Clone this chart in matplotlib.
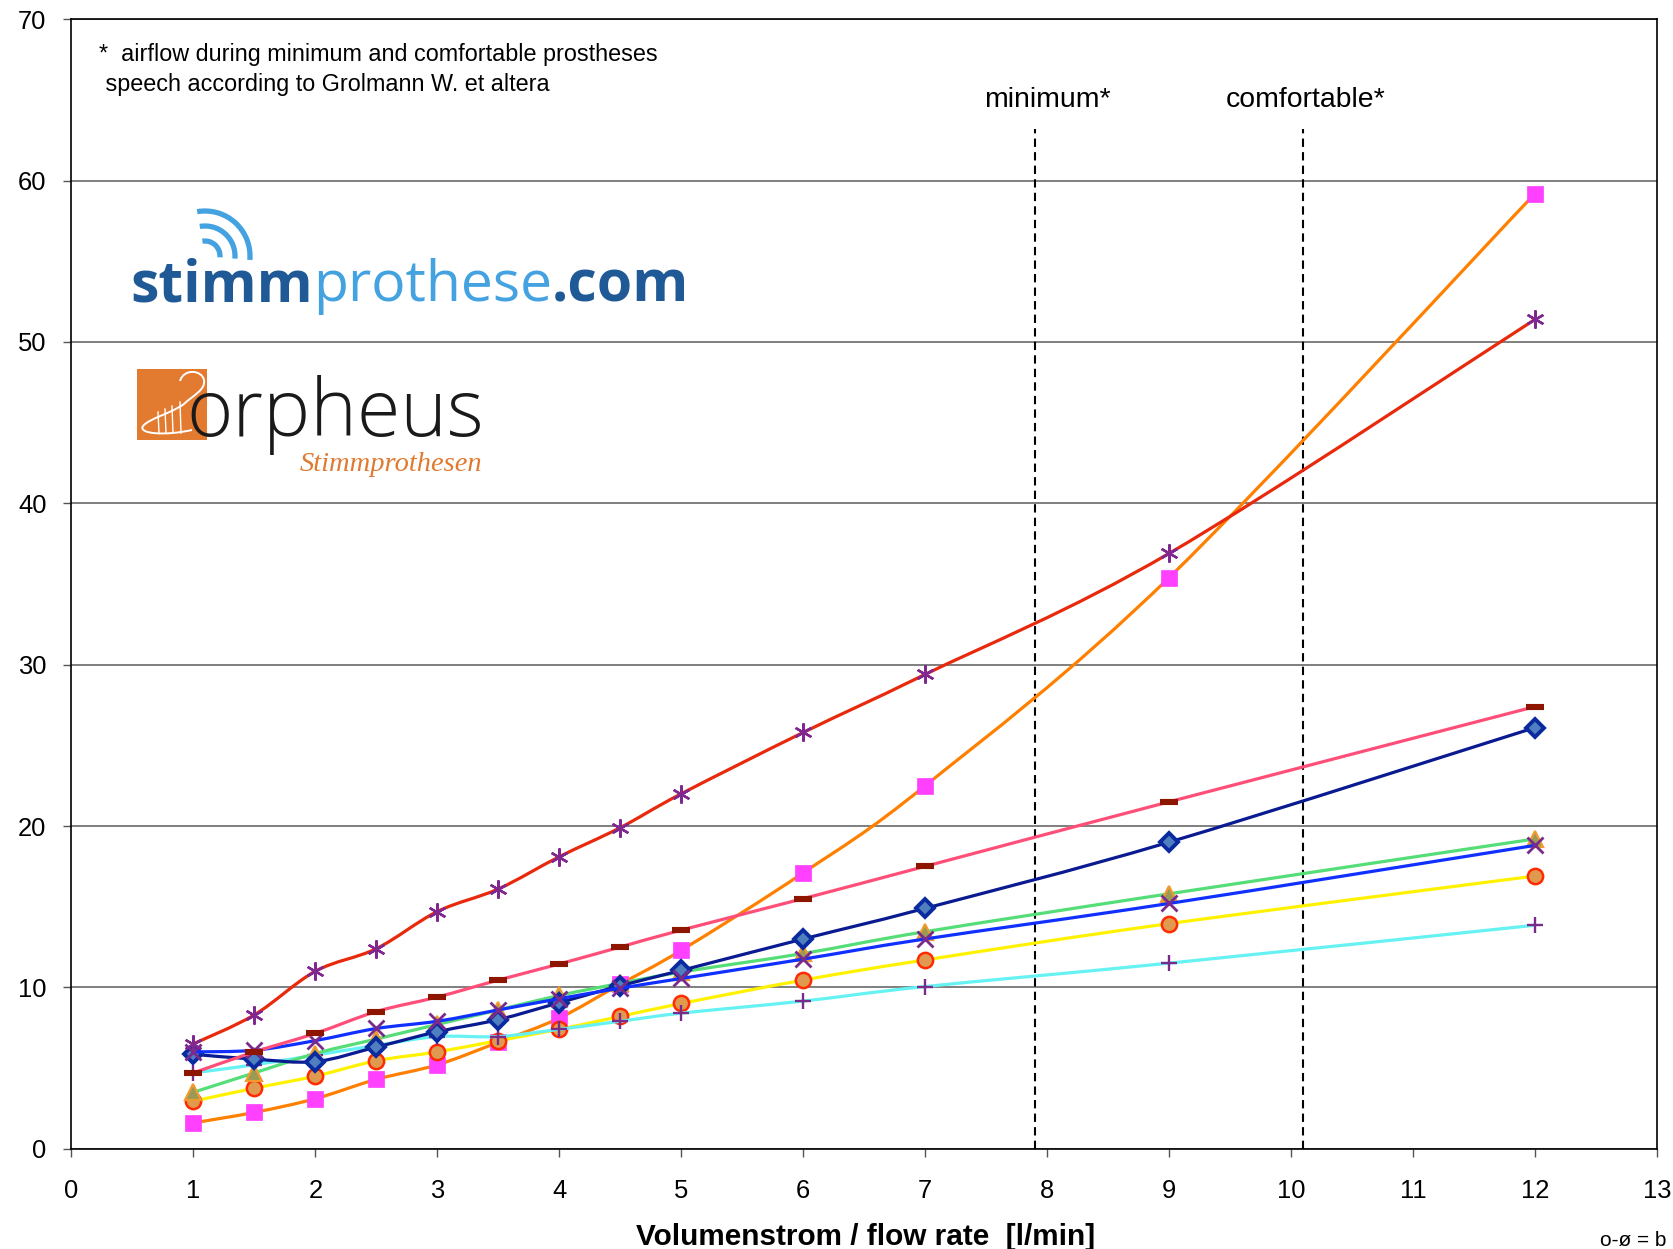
import numpy as np
import matplotlib
matplotlib.use("Agg")
import matplotlib.pyplot as plt
from matplotlib.path import Path
from matplotlib.patches import PathPatch, Arc, Rectangle

plt.rcParams['font.family'] = ['Liberation Sans', 'DejaVu Sans']

# flow rate [l/min]
flow = [1, 1.5, 2, 2.5, 3, 3.5, 4, 4.5, 5, 6, 7, 9, 12]

# pressure values per prosthesis
red_star = [6.5, 8.3, 11.0, 12.4, 14.7, 16.1, 18.1, 19.9, 22.0, 25.8, 29.4, 36.9, 51.4]
orange_square = [1.6, 2.25, 3.1, 4.3, 5.2, 6.6, 8.1, 10.2, 12.3, 17.1, 22.5, 35.4, 59.2]
pink_dash = [4.7, 6.0, 7.15, 8.5, 9.4, 10.45, 11.45, 12.5, 13.55, 15.5, 17.5, 21.5, 27.4]
navy_diamond = [5.85, 5.55, 5.4, 6.3, 7.25, 8.0, 9.05, 10.1, 11.05, 13.0, 14.9, 19.0, 26.1]
green_triangle = [3.5, 4.7, 5.9, 6.8, 7.7, 8.6, 9.5, 10.25, 10.95, 12.1, 13.45, 15.8, 19.2]
blue_cross = [6.0, 6.1, 6.7, 7.45, 7.9, 8.6, 9.3, 9.95, 10.55, 11.75, 13.0, 15.2, 18.8]
yellow_circle = [2.95, 3.75, 4.5, 5.45, 6.0, 6.7, 7.4, 8.2, 9.0, 10.45, 11.7, 13.95, 16.9]
cyan_plus = [4.7, 5.2, 5.8, 6.4, 6.95, 6.95, 7.4, 7.9, 8.4, 9.15, 10.05, 11.5, 13.85]

# airflow during speech (Grolmann et al.)
speech_flow = [7.9, 10.1]
speech_names = ["minimum*", "comfortable*"]

x_ticks = list(range(0, 14))
y_ticks = list(range(0, 71, 10))


def smooth_path(x, y):
    # excel-like smoothed line: bezier segments through the points
    pts = np.column_stack([x, y]).astype(float)
    verts = [pts[0]]
    codes = [Path.MOVETO]
    n = len(pts)
    for i in range(n - 1):
        p0 = pts[i - 1] if i > 0 else pts[i]
        p1 = pts[i]
        p2 = pts[i + 1]
        p3 = pts[i + 2] if i + 2 < n else pts[i + 1]
        verts += [p1 + (p2 - p0) / 6.0, p2 - (p3 - p1) / 6.0, p2]
        codes += [Path.CURVE4] * 3
    return Path(verts, codes)


fig = plt.figure(figsize=(16.74, 12.49), dpi=100)
ax = fig.add_axes([0.04271, 0.08031, 0.94713, 0.90424])

ax.set_xlim(0, 13)
ax.set_ylim(0, 70)
ax.set_xticks(x_ticks)
ax.set_yticks(y_ticks)
ax.tick_params(axis='both', direction='out', length=6, width=1, color='#555555', labelsize=18.4)
ax.tick_params(axis='x', pad=16)
ax.tick_params(axis='y', pad=12)
for s in ax.spines.values():
    s.set_color('black')
    s.set_linewidth(1.2)
ax.yaxis.grid(True, color='#7f7f7f', linewidth=1.4)
ax.set_axisbelow(True)

for xv in speech_flow:
    ax.plot([xv, xv], [0, 63.2], color='black', lw=1.5, ls=(0, (4, 2.5)), zorder=1.5)
ax.text(8.0, 64.55, speech_names[0], ha='center', va='baseline', fontsize=20.4)
ax.text(10.12, 64.55, speech_names[1], ha='center', va='baseline', fontsize=20.4)

series = [
    (orange_square, '#ff8000', dict(marker='s', ms=11, mfc='#ff40ff', mec='#ff40ff', mew=0.5)),
    (yellow_circle, '#fff200', dict(marker='o', ms=11, mfc='#e09a50', mec='#ff2a00', mew=1.8)),
    (cyan_plus, '#66f2f2', dict(marker='+', ms=12, mec='#7a2a8a', mew=1.7)),
    (green_triangle, '#55dd77', dict(marker='^', ms=11, mfc='#9a9a55', mec='#f09a30', mew=1.6)),
    (navy_diamond, '#0a1a90', dict(marker='D', ms=9, mfc='#4f7fbf', mec='#0a2aa0', mew=2.8)),
    (blue_cross, '#1030ff', dict(marker='x', ms=11, mec='#7a2a8a', mew=2.0)),
    (pink_dash, '#ff4f79', dict(marker='_', ms=13, mec='#8e1600', mew=4.4)),
    (red_star, '#e8290b', dict(marker=(6, 2, 0), ms=13, mec='#80288f', mew=1.7)),
]

z = 2
for vals, lc, mk in series:
    ax.add_patch(PathPatch(smooth_path(flow, vals), fill=False, edgecolor=lc, lw=2.3,
                           joinstyle='round', capstyle='round', zorder=z))
    ax.plot(flow, vals, ls='none', zorder=z + 0.5, **mk)
    z += 1

# overlay in pixel coords for logos and loose texts
ov = fig.add_axes([0, 0, 1, 1])
ov.set_xlim(0, 1674)
ov.set_ylim(1249, 0)
ov.axis('off')
ov.patch.set_alpha(0)

ov.text(99, 61, "*  airflow during minimum and comfortable prostheses", fontsize=16.8, va='baseline')
ov.text(99, 91, " speech according to Grolmann W. et altera", fontsize=16.8, va='baseline')
ov.text(866, 1245, "Volumenstrom / flow rate  [l/min]", fontsize=21.4, fontweight='bold',
        ha='center', va='baseline')
ov.text(1600, 1246, "o-ø = b", fontsize=15, va='baseline')

# stimmprothese.com logo
renderer = fig.canvas.get_renderer()
parts = [("stimm", '#1f5a96', 'bold'), ("prothese", '#45a2e0', 'normal'), (".com", '#1f5a96', 'bold')]
base = 40
widths = []
for txt, col, w in parts:
    t = ov.text(0, 0, txt, fontsize=base, family='Open Sans', fontweight=w)
    widths.append(t.get_window_extent(renderer).width)
    t.remove()
fs = base * 559.0 / sum(widths)
xpos = 130
for (txt, col, w), wd in zip(parts, widths):
    ov.text(xpos, 301, txt, fontsize=fs, family='Open Sans', fontweight=w, color=col, va='baseline')
    xpos += wd * fs / base
for r in [15, 30, 45]:
    ov.add_patch(Arc((205, 256), 2 * r, 2 * r, theta1=-100, theta2=5, color='#45a2e0', lw=3.8))

# orpheus logo
ov.add_patch(Rectangle((137, 369), 70, 71, color='#e27a2f', lw=0))
harp = Path([(180, 381), (184, 368), (202, 370), (204, 380),
             (206, 390), (192, 396), (184, 404),
             (170, 414), (150, 418), (143, 426),
             (138, 434), (165, 436), (192, 430)],
            [Path.MOVETO] + [Path.CURVE4] * 12)
ov.add_patch(PathPatch(harp, fill=False, edgecolor='white', lw=1.4))
for sx, top in [(158, 412), (165, 409), (172, 406), (180, 402)]:
    ov.plot([sx, sx + 1], [top, 433], color='white', lw=1.0)
ov.text(186, 436, "orpheus", fontsize=57, family='Open Sans', fontweight='light', color='#1a1a1a', va='baseline')
ov.text(300, 471, "Stimmprothesen", fontsize=20.5, family='Liberation Serif', style='italic',
        color='#e07a30', va='baseline')

fig.savefig("out.png", dpi=100)
